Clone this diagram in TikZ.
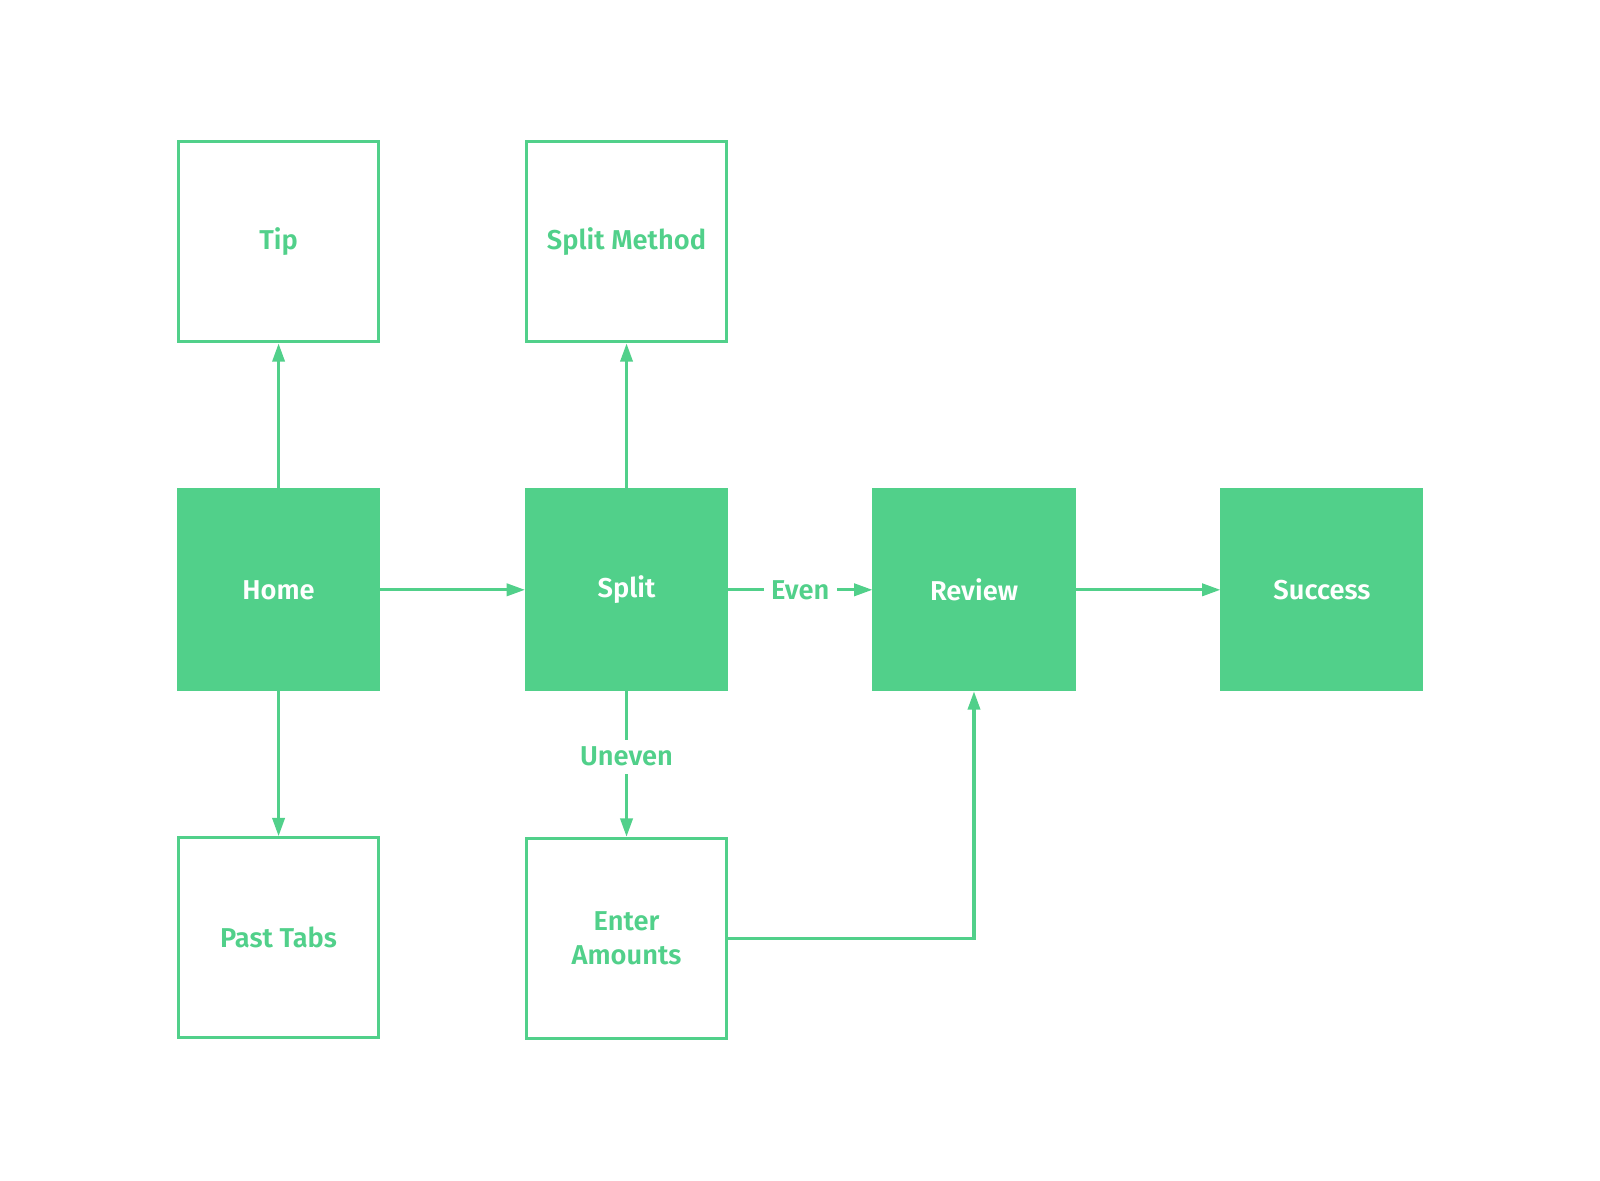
\documentclass[tikz,border=0pt]{standalone}
\usepackage{fontspec}
\setmainfont{Fira Sans}[BoldFont={Fira Sans SemiBold}]
\usepackage{tikz}
\usetikzlibrary{arrows.meta}
\definecolor{flowgreen}{HTML}{51D08A}

\begin{document}
\begin{tikzpicture}[
    screen/.style={draw=flowgreen,line width=0.03cm,minimum size=1.96cm,inner sep=0pt,
      font=\fontsize{7.6}{9.4}\selectfont\bfseries,text=flowgreen,align=center},
    main/.style={screen,fill=flowgreen,text=white},
    flow/.style={draw=flowgreen,line width=0.03cm,-{Triangle[length=0.18cm,width=0.12cm]}},
    tag/.style={fill=white,inner sep=2pt,font=\fontsize{7.6}{9.4}\selectfont\bfseries,text=flowgreen}]
  \useasboundingbox (0,0) rectangle (15.68,-11.564);
  \node[main] (S-home) at (2.73,-5.78) {Home};
  \node[main] (S-split) at (6.14,-5.78) {Split};
  \node[main] (S-review) at (9.545,-5.78) {Review};
  \node[main] (S-success) at (12.955,-5.78) {Success};
  \node[screen] (S-tip) at (2.73,-2.37) {Tip};
  \node[screen] (S-method) at (6.14,-2.37) {Split Method};
  \node[screen] (S-tabs) at (2.73,-9.19) {Past Tabs};
  \node[screen] (S-amounts) at (6.14,-9.195) {Enter\\Amounts};
  \draw[flow] (S-home) -- (S-tip);
  \draw[flow] (S-home) -- (S-tabs);
  \draw[flow] (S-home) -- (S-split);
  \draw[flow] (S-split) -- (S-method);
  \draw[flow] (S-split) -- node[tag] {Even} (S-review);
  \draw[flow] (S-split) -- node[tag,pos=0.45] {Uneven} (S-amounts);
  \draw[flow] (S-review) -- (S-success);
  \draw[flow] (S-amounts.east) -| (S-review.south);
\end{tikzpicture}
\end{document}
